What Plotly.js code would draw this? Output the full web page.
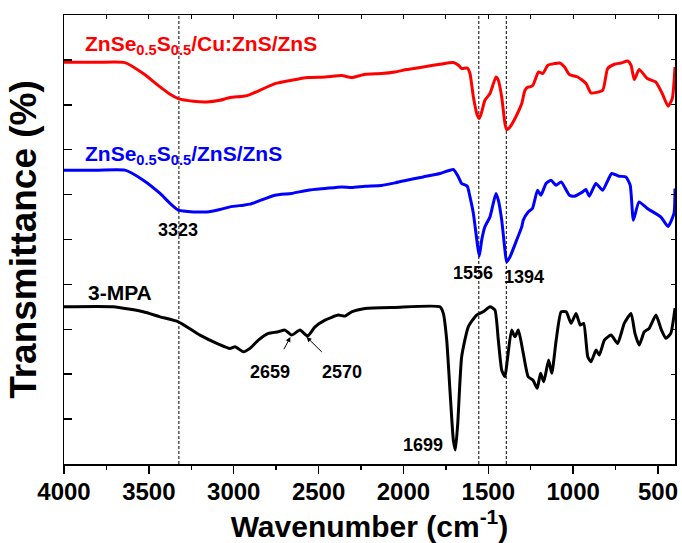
<!DOCTYPE html>
<html>
<head>
<meta charset="utf-8">
<script src="https://cdn.plot.ly/plotly-3.0.1.min.js"></script>
<style>html,body{margin:0;padding:0;background:#fff;}#chart{width:682px;height:543px;}</style>
</head>
<body>
<div id="chart"></div>
<script>
// Wavenumber (cm-1) and offset transmittance (a.u.)
const redWn = [4000,3800,3641,3533,3434,3375,3326,3238,3159,3081,3022,2943,2904,2757,2660,2562,2460,2364,2305,2226,2130,2050,1981,1883,1785,1706,1676,1657,1624,1608,1588,1565,1553,1539,1520,1490,1455,1441,1421,1402,1392,1372,1333,1303,1284,1265,1257,1237,1204,1179,1149,1110,1080,1051,1022,973,924,895,826,797,757,718,679,659,640,611,563,514,475,441,416,400];
const redT  = [8.947,8.947,8.940,8.696,8.398,8.235,8.139,8.079,8.064,8.101,8.162,8.191,8.228,8.473,8.547,8.607,8.620,8.651,8.607,8.680,8.696,8.731,8.785,8.843,8.903,8.941,8.881,8.807,8.820,8.696,8.175,7.768,7.694,7.841,8.101,8.251,8.620,8.547,8.175,7.583,7.449,7.507,7.768,8.028,8.324,8.398,8.398,8.435,8.731,8.696,8.881,8.918,8.932,8.843,8.673,8.620,8.473,8.264,8.324,8.807,8.903,8.932,8.976,8.881,8.562,8.785,8.585,8.509,8.251,7.968,8.139,8.843];

const blueWn = [4000,3800,3641,3533,3434,3375,3326,3238,3159,3081,3022,2943,2904,2757,2660,2562,2460,2364,2305,2226,2130,2050,1981,1883,1785,1706,1676,1657,1624,1608,1588,1565,1553,1539,1520,1490,1455,1441,1421,1402,1392,1372,1333,1303,1294,1265,1240,1210,1190,1160,1131,1101,1071,1022,993,944,925,905,866,826,773,730,689,664,645,612,563,484,441,406,400];
const blueT  = [6.544,6.544,6.544,6.321,6.025,5.802,5.653,5.615,5.615,5.669,5.727,5.765,5.787,5.987,6.025,6.098,6.136,6.172,6.158,6.187,6.203,6.261,6.321,6.394,6.470,6.559,6.394,6.247,6.187,5.949,5.580,4.912,4.630,4.986,5.282,5.504,6.025,5.876,5.431,4.763,4.502,4.614,4.986,5.282,5.431,5.615,5.691,6.098,5.987,6.247,6.321,6.210,6.283,5.987,5.965,6.061,6.114,5.965,6.247,6.098,6.470,6.410,6.394,6.210,5.431,5.838,5.691,5.504,5.291,5.580,6.136];

const blackWn = [4000,3711,3533,3434,3326,3199,3090,3022,2992,2943,2904,2855,2796,2737,2698,2659,2609,2565,2521,2462,2384,2344,2305,2226,2050,1785,1765,1745,1726,1706,1694,1680,1657,1618,1569,1530,1490,1461,1441,1421,1402,1388,1363,1343,1323,1294,1265,1237,1212,1192,1173,1145,1126,1100,1071,1041,1012,983,958,938,914,895,865,846,816,777,738,699,659,636,611,581,552,512,480,454,425,400];
const blackT  = [3.501,3.501,3.390,3.278,3.167,2.871,2.671,2.575,2.611,2.499,2.575,2.760,2.909,2.945,2.982,2.871,2.982,2.849,3.056,3.205,3.316,3.294,3.390,3.465,3.488,3.501,3.354,2.760,1.647,0.534,0.312,0.906,2.388,3.056,3.316,3.390,3.501,3.428,2.760,2.092,1.943,2.315,2.982,2.833,2.982,2.464,1.943,1.870,1.685,2.019,1.832,2.315,2.019,2.760,3.390,3.390,3.132,3.354,3.094,3.132,2.388,2.277,2.537,2.426,2.760,2.871,2.686,3.132,3.354,2.909,2.649,2.945,3.020,3.316,2.982,2.798,2.909,3.472];

const seriesNames = ['ZnSe<sub>0.5</sub>S<sub>0.5</sub>/Cu:ZnS/ZnS', 'ZnSe<sub>0.5</sub>S<sub>0.5</sub>/ZnS/ZnS', '3-MPA'];
const markedPeaks = [3323, 1556, 1394];
const xTickVals = [4000,3500,3000,2500,2000,1500,1000,500];
const xTickText = ['4000','3500','3000','2500','2000','1500','1000','500'];

const FONT = 'Arial, "Liberation Sans", sans-serif';

const lineStyle = (c) => ({color: c, width: 3, shape: 'spline', smoothing: 0.5});

const traces = [
  {x: redWn, y: redT, mode: 'lines', line: lineStyle('#ff0000'), name: seriesNames[0]},
  {x: blueWn, y: blueT, mode: 'lines', line: lineStyle('#0000ff'), name: seriesNames[1]},
  {x: blackWn, y: blackT, mode: 'lines', line: lineStyle('#000000'), name: seriesNames[2]},
  {x: [], y: [], xaxis: 'x2', yaxis: 'y2', showlegend: false}
];

const shapes = markedPeaks.map(p => ({
  type: 'line', xref: 'x', yref: 'paper', x0: p, x1: p, y0: 0, y1: 1,
  line: {color: '#000', width: 1, dash: '3px,2px'}, layer: 'below'
}));

function lbl(text, x, y, color, size, xanchor) {
  return {text: text, x: x, y: y, xref: 'x', yref: 'y', showarrow: false,
    xanchor: xanchor || 'center', yanchor: 'middle',
    font: {family: FONT, size: size, color: color, weight: 'bold'}};
}
function arrow(x, y, ax, ay) {
  return {text: ' ', x: x, y: y, ax: ax, ay: ay, xref: 'x', yref: 'y', axref: 'x', ayref: 'y',
    showarrow: true, arrowhead: 2, arrowsize: 1, arrowwidth: 1, arrowcolor: '#000',
    font: {size: 2}};
}

const annotations = [
  lbl('<b>' + seriesNames[0] + '</b>', 3888, 9.33, '#ff0000', 21, 'left'),
  lbl('<b>' + seriesNames[1] + '</b>', 3888, 6.88, '#0000ff', 21, 'left'),
  lbl('<b>' + seriesNames[2] + '</b>', 3870, 3.83, '#000000', 21, 'left'),
  lbl('<b>3323</b>', 3328, 5.21, '#000', 18),
  lbl('<b>1556</b>', 1593, 4.25, '#000', 18),
  lbl('<b>1394</b>', 1289, 4.16, '#000', 18),
  lbl('<b>1699</b>', 1887, 0.42, '#000', 18),
  lbl('<b>2659</b>', 2786, 2.05, '#000', 18),
  lbl('<b>2570</b>', 2362, 2.05, '#000', 18),
  arrow(2666, 2.83, 2712, 2.50),
  arrow(2571, 2.83, 2469, 2.45)
];

const layout = {
  width: 682, height: 543,
  margin: {l: 64, r: 7, t: 15, b: 79},
  paper_bgcolor: '#fff', plot_bgcolor: '#fff',
  showlegend: false,
  font: {family: FONT, color: '#000'},
  xaxis: {
    range: [4000, 400], showgrid: false, zeroline: false,
    showline: true, linecolor: '#000', linewidth: 1.5, mirror: true,
    ticks: 'outside', ticklen: 8, tickwidth: 1.5, tickcolor: '#000',
    tickvals: xTickVals, ticktext: xTickText, ticklabelstandoff: -2,
    tickfont: {family: FONT, size: 24, weight: 'bold'},
    minor: {dtick: 250, tick0: 0, ticks: 'outside', ticklen: 4, tickwidth: 1.5, tickcolor: '#000'},
    title: {text: '<b>Wavenumber (cm<sup>-1</sup>)</b>', font: {family: FONT, size: 30}, standoff: 8}
  },
  yaxis: {
    range: [0, 10], showgrid: false, zeroline: false,
    showline: true, linecolor: '#000', linewidth: 1.5, mirror: true,
    ticks: 'inside', ticklen: 8, tickwidth: 1.5, tickcolor: '#000',
    dtick: 1, tick0: 0, showticklabels: false,
    title: {text: '<b>Transmittance (%)</b>', font: {family: FONT, size: 37}, standoff: 14}
  },
  xaxis2: {
    overlaying: 'x', side: 'top', range: [4000, 400], showgrid: false, zeroline: false,
    showline: false, ticks: 'inside', ticklen: 4, tickwidth: 1, tickcolor: '#000',
    dtick: 250, tick0: 0, showticklabels: false
  },
  yaxis2: {
    overlaying: 'y', side: 'right', range: [0, 10], showgrid: false, zeroline: false,
    showline: false, ticks: 'inside', ticklen: 4, tickwidth: 1, tickcolor: '#000',
    dtick: 1, tick0: 0, showticklabels: false
  },
  shapes: shapes,
  annotations: annotations
};

Plotly.newPlot('chart', traces, layout, {displayModeBar: false, staticPlot: true});
</script>
</body>
</html>
